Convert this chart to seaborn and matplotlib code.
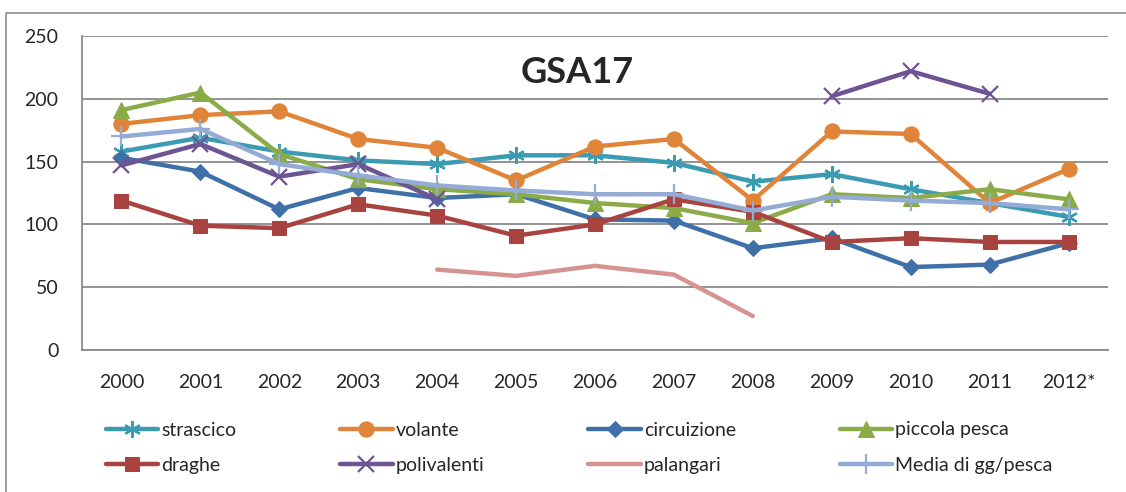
import numpy as np
import pandas as pd
import matplotlib.pyplot as plt
import seaborn as sns
from matplotlib.patches import Rectangle

nan = np.nan

# values
years = ['2000', '2001', '2002', '2003', '2004', '2005', '2006',
         '2007', '2008', '2009', '2010', '2011', '2012*']
strascico = [158, 169, 158, 151, 148, 155, 155, 149, 134, 140, 128, 117, 106]
volante = [180, 187, 190, 168, 161, 135, 162, 168, 119, 174, 172, 117, 144]
circuizione = [153, 142, 112, 129, 121, 124, 104, 103, 81, 89, 66, 68, 85]
piccola_pesca = [191, 205, 156, 136, 128, 124, 117, 113, 101, 124, 121, 128, 120]
draghe = [119, 99, 97, 116, 107, 91, 100, 120, 110, 86, 89, 86, 86]
polivalenti = [147, 164, 138, 148, 120, nan, nan, nan, nan, 202, 222, 204, nan]
palangari = [nan, nan, nan, nan, 64, 59, 67, 60, 27, nan, nan, nan, nan]
media = [170, 176, 148, 139, 131, 127, 124, 124, 111, 122, 119, 117, 112]

series = [
    ('strascico', strascico, '#3b9bb2', dict(marker=(6, 2, 0), markersize=12, markeredgewidth=1.6)),
    ('volante', volante, '#e0843a', dict(marker='o', markersize=11)),
    ('circuizione', circuizione, '#4070a8', dict(marker='D', markersize=8)),
    ('piccola pesca', piccola_pesca, '#8aab48', dict(marker='^', markersize=11)),
    ('draghe', draghe, '#a84340', dict(marker='s', markersize=10)),
    ('polivalenti', polivalenti, '#6d5493', dict(marker='x', markersize=11, markeredgewidth=1.6)),
    ('palangari', palangari, '#d69391', dict(marker=None)),
    ('Media di gg/pesca', media, '#93abd5', dict(marker='+', markersize=15, markeredgewidth=1.6)),
]

sns.set_style('white')
plt.rcParams['font.family'] = ['Lato', 'DejaVu Sans']

fig = plt.figure(figsize=(11.26, 4.92), dpi=100)
ax = fig.add_axes([82 / 1126, 1 - 350 / 492, 1026 / 1126, 314 / 492])

handles = {}
for name, vals, color, mk in series:
    df = pd.DataFrame({'x': np.arange(len(years)), 'y': vals})
    # split into contiguous runs so gaps stay gaps
    grp = df['y'].isna().cumsum()
    for _, seg in df.dropna().groupby(grp[df['y'].notna()]):
        sns.lineplot(data=seg, x='x', y='y', ax=ax, color=color, linewidth=3.2,
                     markerfacecolor=color, markeredgecolor=color, **mk)
    handles[name] = ax.lines[-1]

ax.set_xlim(-0.5, len(years) - 0.5)
ax.set_ylim(0, 250)
ax.set_yticks(range(0, 251, 50))
ax.set_xticks(range(len(years)))
ax.set_xticklabels(years)
ax.set_xticks(np.arange(-0.5, len(years), 1), minor=True)
ax.set_xlabel('')
ax.set_ylabel('')
ax.grid(axis='y', color='#8a8a8a', linewidth=1.3)
ax.set_axisbelow(True)
for s in ['top', 'right']:
    ax.spines[s].set_visible(False)
for s in ['left', 'bottom']:
    ax.spines[s].set_color('#8a8a8a')
    ax.spines[s].set_linewidth(1.3)
ax.tick_params(axis='x', which='major', length=0, pad=17, labelsize=14)
ax.tick_params(axis='x', which='minor', length=7, color='#8a8a8a', width=1.3)
ax.tick_params(axis='y', length=7, color='#8a8a8a', width=1.3, pad=10, labelsize=14)

ax.text(0.483, 0.885, 'GSA17', transform=ax.transAxes, ha='center', va='center',
        fontsize=26, fontweight='bold')

order = ['strascico', 'draghe', 'volante', 'polivalenti',
         'circuizione', 'palangari', 'piccola pesca', 'Media di gg/pesca']
fig.legend([handles[n] for n in order], order, loc='upper left',
           bbox_to_anchor=(88 / 1126, 1 - 404 / 492), ncol=4, frameon=False,
           fontsize=14, handlelength=2.7, handletextpad=0.15, columnspacing=5.35,
           labelspacing=0.95)

fig.patches.append(Rectangle((6 / 1126, -0.1), 1.2, 1.1 - 13 / 492, transform=fig.transFigure,
                             fill=False, edgecolor='#8c8c8c', linewidth=1.2))

fig.savefig('out.png', dpi=100)
